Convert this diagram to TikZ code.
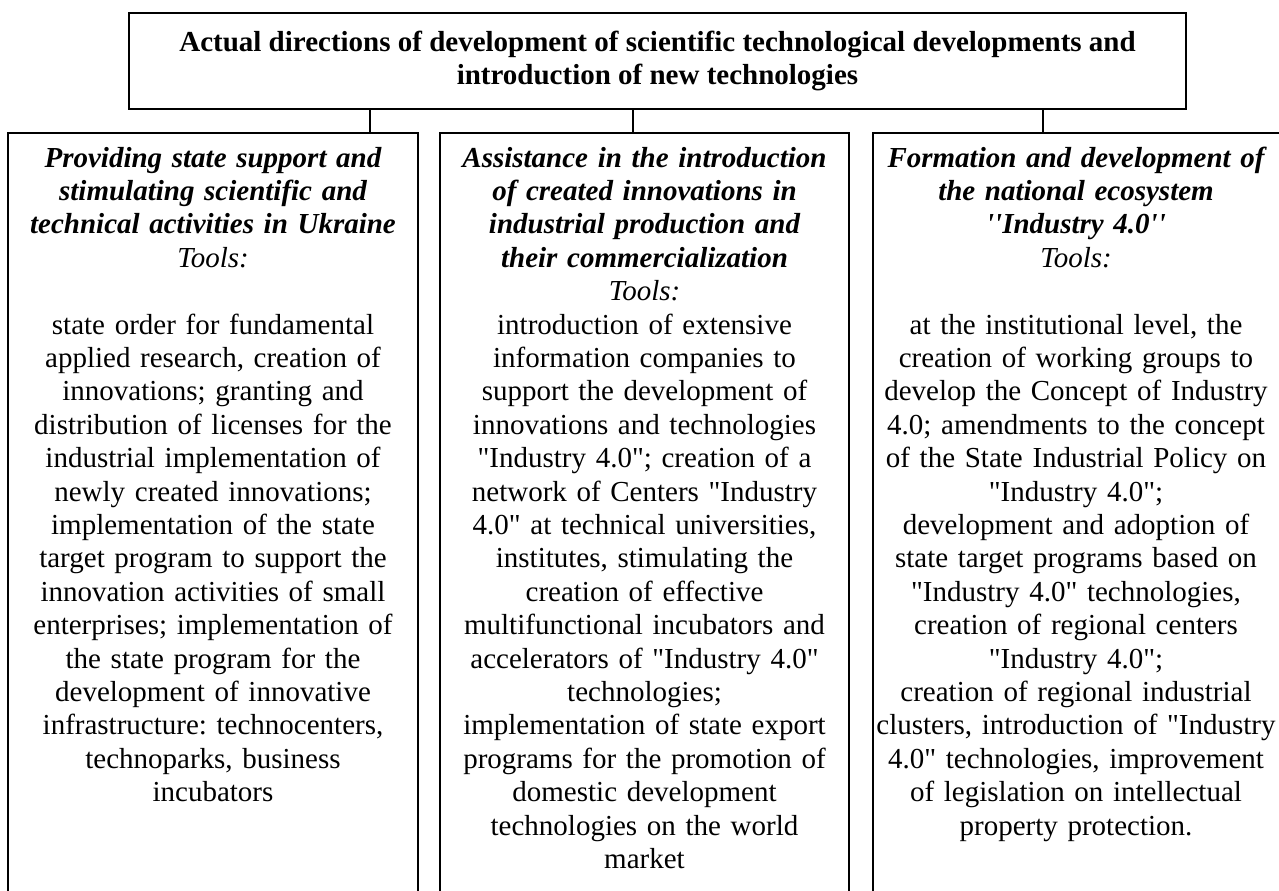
\documentclass[tikz,border=0pt]{standalone}
\usepackage{fontspec}
\setmainfont{Liberation Serif}[Ligatures=TeXOff]
\frenchspacing
\tikzset{
  frame/.style={draw=black, line width=1.4pt},
  cell/.style={inner sep=0pt, outer sep=0pt, minimum width=#1, minimum height=758pt},
  coltext/.style={inner sep=0pt, outer sep=0pt, anchor=north, text width=404pt, align=center,
    font=\fontsize{29}{33.4}\selectfont\frenchspacing},
  edge/.style={draw=black, line width=1.4pt}
}
\newcommand{\firstrow}{\rule{0pt}{25pt}}
\begin{document}
\begin{tikzpicture}[x=1pt, y=-1pt]
\useasboundingbox (0,0) rectangle (1279,891);

% title
\node[frame, inner sep=0pt, minimum width=1057pt, minimum height=96pt, align=center,
      font=\fontsize{29}{33.4}\selectfont\bfseries] (title) at (657.5,61)
  {Actual directions of development of scientific technological developments and\\
   introduction of new technologies};

% column cells (open at the bottom)
\node[cell=410pt] (L) at (213,512) {};
\node[cell=409pt] (M) at (644.5,512) {};
\node[cell=406pt] (R) at (1076,512) {};
\draw[frame] (L.south west) -- (L.north west) -- (L.north east) -- (L.south east);
\draw[frame] (M.south west) -- (M.north west) -- (M.north east) -- (M.south east);
\draw[frame] (R.south west) -- (R.north west) -- (R.north east);

% connectors
\coordinate (c1) at (370,133);
\coordinate (c2) at (633,133);
\coordinate (c3) at (1043,133);
\draw[edge] (title.south -| c1) -- (c1);
\draw[edge] (title.south -| c2) -- (c2);
\draw[edge] (title.south -| c3) -- (c3);

% texts
\node[coltext] (Lt) at ([yshift=-9pt]L.north) {\firstrow{\bfseries\itshape Providing state support and\\
stimulating scientific and\\
technical activities in Ukraine\\}
{\itshape Tools:}\\[33.4pt]
state order for fundamental\\
applied research, creation of\\
innovations; granting and\\
distribution of licenses for the\\
industrial implementation of\\
newly created innovations;\\
implementation of the state\\
target program to support the\\
innovation activities of small\\
enterprises; implementation of\\
the state program for the\\
development of innovative\\
infrastructure: technocenters,\\
technoparks, business\\
incubators};

\node[coltext] (Mt) at ([yshift=-9pt]M.north) {\firstrow{\bfseries\itshape Assistance in the introduction\\
of created innovations in\\
industrial production and\\
their commercialization\\}
{\itshape Tools:}\\
introduction of extensive\\
information companies to\\
support the development of\\
innovations and technologies\\
"Industry 4.0"; creation of a\\
network of Centers "Industry\\
4.0" at technical universities,\\
institutes, stimulating the\\
creation of effective\\
multifunctional incubators and\\
accelerators of "Industry 4.0"\\
technologies;\\
implementation of state export\\
programs for the promotion of\\
domestic development\\
technologies on the world\\
market};

\node[coltext] (Rt) at ([yshift=-9pt]R.north) {\firstrow{\bfseries\itshape Formation and development of\\
the national ecosystem\\
''Industry 4.0''\\}
{\itshape Tools:}\\[33.4pt]
at the institutional level, the\\
creation of working groups to\\
develop the Concept of Industry\\
4.0; amendments to the concept\\
of the State Industrial Policy on\\
"Industry 4.0";\\
development and adoption of\\
state target programs based on\\
"Industry 4.0" technologies,\\
creation of regional centers\\
"Industry 4.0";\\
creation of regional industrial\\
clusters, introduction of "Industry\\
4.0" technologies, improvement\\
of legislation on intellectual\\
property protection.};
\end{tikzpicture}
\end{document}
